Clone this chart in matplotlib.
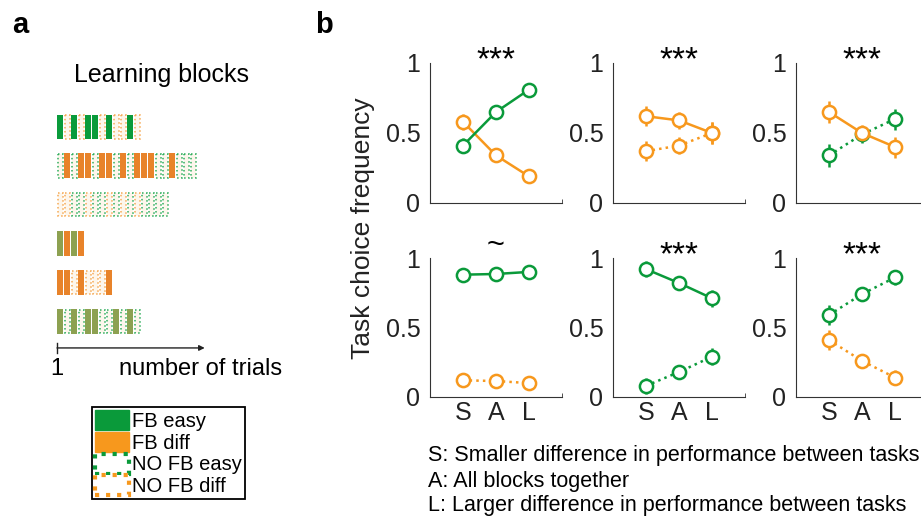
import matplotlib
matplotlib.use('Agg')
import matplotlib.pyplot as plt
from matplotlib.patches import Patch

plt.rcParams['font.family'] = ['Liberation Sans', 'DejaVu Sans']

green = '#0a9a3a'
orange = '#f7981d'

# panel a: one string per block, one letter per trial
# upper case = feedback (solid bar), lower case = no feedback (dotted outline)
# G/g = easy task, O/o = difficult task, V = easy task (olive)
block_rows = [
    'GoGoGGoGooGo',
    'gOgOOgOOgOgOOOggOggg',
    'ooggoggogogogggg',
    'VOVO',
    'OOoOoooO',
    'VgVgVVggVgVg',
]
block_colors = {'G': '#0a9b3b', 'O': '#e8832a', 'V': '#8da151',
                'g': '#2fae5c', 'o': '#f6aa55'}

# panel b: choice frequency for S / A / L
x_labels = ['S', 'A', 'L']
x_pos = [1, 2, 3]
stars = ['***', '***', '***', '~', '***', '***']

p1_easy_fb = [0.41, 0.65, 0.81]
p1_diff_fb = [0.58, 0.34, 0.19]
p2_diff_fb = [0.62, 0.59, 0.50]
p2_diff_nofb = [0.37, 0.41, 0.50]
p3_easy_nofb = [0.34, 0.49, 0.60]
p3_diff_fb = [0.65, 0.50, 0.40]
p4_easy_fb = [0.88, 0.885, 0.90]
p4_diff_nofb = [0.12, 0.115, 0.10]
p5_easy_fb = [0.92, 0.82, 0.71]
p5_easy_nofb = [0.08, 0.18, 0.29]
p6_easy_nofb = [0.59, 0.74, 0.86]
p6_diff_nofb = [0.41, 0.26, 0.14]

err_p1 = [0.055, 0.045, 0.045]
err_p2 = [0.07, 0.06, 0.08]
err_p3 = [0.08, 0.06, 0.075]
err_p4 = [0.03, 0.03, 0.03]
err_p5 = [0.06, 0.05, 0.06]
err_p6 = [0.07, 0.05, 0.055]

# (values, errors, colour, linestyle) per panel
panels = [
    [(p1_diff_fb, err_p1, orange, '-'), (p1_easy_fb, err_p1, green, '-')],
    [(p2_diff_nofb, err_p2, orange, ':'), (p2_diff_fb, err_p2, orange, '-')],
    [(p3_easy_nofb, err_p3, green, ':'), (p3_diff_fb, err_p3, orange, '-')],
    [(p4_easy_fb, err_p4, green, '-'), (p4_diff_nofb, err_p4, orange, ':')],
    [(p5_easy_fb, err_p5, green, '-'), (p5_easy_nofb, err_p5, green, ':')],
    [(p6_easy_nofb, err_p6, green, ':'), (p6_diff_nofb, err_p6, orange, ':')],
]

W, H = 921, 520
fig = plt.figure(figsize=(W / 100, H / 100), dpi=100)

# ---------- panel a ----------
ax_a = fig.add_axes([57 / W, 1 - 360 / H, 154 / W, 255 / H])
ax_a.set_xlim(0, 22)
ax_a.set_ylim(5.99, -0.566)
ax_a.axis('off')
for r, row in enumerate(block_rows):
    for i, c in enumerate(row):
        if c.isupper():
            ax_a.bar(i + 0.45, 0.64, width=0.8, bottom=r - 0.32,
                     color=block_colors[c], linewidth=0)
        else:
            ax_a.bar(i + 0.45, 0.6, width=0.68, bottom=r - 0.3,
                     facecolor='#fdf6ec', edgecolor=block_colors[c],
                     linestyle=':', linewidth=1.1)

ax_a.annotate('', xy=(21.1, 5.68), xytext=(0, 5.68),
              arrowprops=dict(arrowstyle='-|>', color='#222222', lw=1,
                              mutation_scale=8, shrinkA=0, shrinkB=0),
              annotation_clip=False)
ax_a.plot([0, 0], [5.55, 5.81], color='#222222', lw=1, clip_on=False)
ax_a.text(0, 6.22, '1', ha='center', va='center', fontsize=17, clip_on=False)
ax_a.text(8.9, 6.22, 'number of trials', ha='left', va='center',
          fontsize=17, clip_on=False)

fig.text(161 / W, 1 - 75 / H, 'Learning blocks', ha='center', va='center',
         fontsize=18)
fig.text(12 / W, 1 - 33 / H, 'a', ha='left', va='baseline', fontsize=21,
         fontweight='bold')
fig.text(315 / W, 1 - 33 / H, 'b', ha='left', va='baseline', fontsize=21,
         fontweight='bold')

handles = [
    Patch(facecolor=green, edgecolor=green),
    Patch(facecolor=orange, edgecolor=orange),
    Patch(facecolor='white', edgecolor=green, linestyle=':', linewidth=3),
    Patch(facecolor='white', edgecolor=orange, linestyle=':', linewidth=3),
]
leg = fig.legend(handles, ['FB easy', 'FB diff', 'NO FB easy', 'NO FB diff'],
                 loc='upper left', bbox_to_anchor=(92 / W, 1 - 407 / H),
                 fontsize=14.5, handlelength=1.7, handleheight=1.15,
                 labelspacing=0.05, handletextpad=0.15, borderpad=0.15,
                 borderaxespad=0, fancybox=False, framealpha=1)
leg.get_frame().set_edgecolor('black')
leg.get_frame().set_linewidth(1.3)

# ---------- panel b ----------
lefts = [430, 613, 796]
rows_px = [(63, 203), (258, 397)]
axes = []
for ri, (top, bot) in enumerate(rows_px):
    for ci, left in enumerate(lefts):
        ax = fig.add_axes([left / W, 1 - bot / H, 132 / W, (bot - top) / H])
        axes.append(ax)

for k, ax in enumerate(axes):
    for vals, err, col, ls in panels[k]:
        ax.errorbar(x_pos, vals, yerr=err, color=col, linestyle=ls,
                    marker='o', mfc='white', mec=col, ms=9.5, mew=1.8,
                    lw=1.8, elinewidth=1.8, capsize=0)
    ax.set_xlim(0, 4)
    ax.set_ylim(0, 1)
    ax.set_yticks([0, 0.5, 1])
    ax.set_yticklabels(['0', '0.5', '1'])
    ax.spines['top'].set_visible(False)
    ax.spines['right'].set_visible(False)
    ax.spines['left'].set_color('#333333')
    ax.spines['bottom'].set_color('#333333')
    ax.tick_params(axis='y', length=0, pad=7, labelsize=18, colors='#222222')
    ax.set_xticks(x_pos)
    ax.set_xticks([2, 4], minor=True)
    ax.tick_params(axis='x', which='major', length=0, pad=3, labelsize=18,
                   colors='#222222')
    ax.tick_params(axis='x', which='minor', direction='in', length=3,
                   color='#333333')
    if k >= 3:
        ax.set_xticklabels(x_labels)
    else:
        ax.set_xticklabels([])
    if stars[k] == '~':
        ax.text(0.5, 1.03, '~', fontsize=22, ha='center', va='baseline',
                transform=ax.transAxes)
    else:
        ax.text(0.5, 0.955, stars[k], fontsize=24, ha='center',
                va='baseline', transform=ax.transAxes)

fig.text(363 / W, 1 - 228 / H, 'Task choice frequency', rotation=90,
         ha='center', va='center', fontsize=19, color='#222222')

fig.text(428 / W, 1 - 455 / H,
         'S: Smaller difference in performance between tasks',
         ha='left', va='center', fontsize=15.5)
fig.text(428 / W, 1 - 481 / H, 'A: All blocks together',
         ha='left', va='center', fontsize=15.5)
fig.text(428 / W, 1 - 506 / H,
         'L: Larger difference in performance between tasks',
         ha='left', va='center', fontsize=15.5)

fig.savefig('out.png', dpi=100)
